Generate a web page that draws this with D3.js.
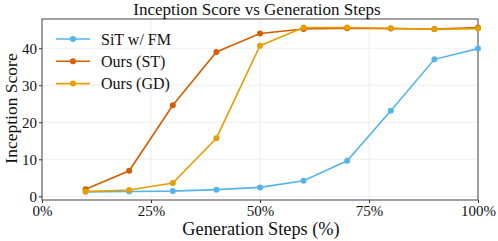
<!DOCTYPE html>
<meta charset="utf-8">
<html>
<head>
  <script src="https://d3js.org/d3.v7.min.js"></script>
</head>
<body style="margin:0; background:#fff">
  <svg id="chart"></svg>
  <script type="text/javascript">
    var width = 498
    var height = 241
    const margin = { top: 19, right: 20, bottom: 41, left: 42 }
    const FONT = 'Liberation Serif, Times New Roman, serif'

    // data
    var steps = [10, 20, 30, 40, 50, 60, 70, 80, 90, 100]
    var sitFM = [1.2, 1.3, 1.4, 1.8, 2.4, 4.2, 9.6, 23.1, 37.0, 39.9]
    var oursST = [1.9, 6.9, 24.6, 39.0, 44.0, 45.2, 45.4, 45.3, 45.2, 45.6]
    var oursGD = [1.3, 1.7, 3.6, 15.7, 40.7, 45.6, 45.6, 45.4, 45.1, 45.3]
    var seriesNames = ['SiT w/ FM', 'Ours (ST)', 'Ours (GD)']
    var seriesColors = ['#56B4E9', '#D55E00', '#E69F00']
    var xTicks = [0, 25, 50, 75, 100]
    var yTicks = [0, 10, 20, 30, 40]

    var series = [sitFM, oursST, oursGD].map(function (vals, i) {
      return { name: seriesNames[i], color: seriesColors[i],
        values: vals.map(function (v, j) { return { x: steps[j], y: v } }) }
    })

    const svg = d3.select('#chart')
      .attr('width', width).attr('height', height)
      .attr('font-family', FONT)

    var x = d3.scaleLinear().domain([0, 100]).range([margin.left, width - margin.right])
    var y = d3.scaleLinear().domain([-1, 47.9]).range([height - margin.bottom, margin.top])

    // grid
    svg.append('g').selectAll('line').data(xTicks).enter().append('line')
      .attr('x1', d => x(d)).attr('x2', d => x(d))
      .attr('y1', margin.top).attr('y2', height - margin.bottom)
      .attr('stroke', '#ebebeb').attr('stroke-width', 0.8)
    svg.append('g').selectAll('line').data(yTicks).enter().append('line')
      .attr('y1', d => y(d)).attr('y2', d => y(d))
      .attr('x1', margin.left).attr('x2', width - margin.right)
      .attr('stroke', '#ebebeb').attr('stroke-width', 0.8)

    // axes
    var xAxis = svg.append('g')
      .attr('transform', 'translate(0,' + (height - margin.bottom) + ')')
      .call(d3.axisBottom(x).tickValues(xTicks).tickFormat(d => d + '%').tickSize(3).tickPadding(2))
    var yAxis = svg.append('g')
      .attr('transform', 'translate(' + margin.left + ',0)')
      .call(d3.axisLeft(y).tickValues(yTicks).tickSize(3).tickPadding(2))
    ;[xAxis, yAxis].forEach(function (a) {
      a.attr('font-family', FONT).attr('font-size', 15)
      a.select('.domain').remove()
      a.selectAll('text').attr('fill', '#111')
      a.selectAll('.tick line').attr('stroke', '#333')
    })

    // frame
    svg.append('rect')
      .attr('x', margin.left).attr('y', margin.top)
      .attr('width', width - margin.left - margin.right)
      .attr('height', height - margin.top - margin.bottom)
      .attr('fill', 'none').attr('stroke', '#444').attr('stroke-width', 1)

    // lines
    var line = d3.line().x(d => x(d.x)).y(d => y(d.y))
    series.forEach(function (s) {
      svg.append('path').datum(s.values)
        .attr('d', line).attr('fill', 'none')
        .attr('stroke', s.color).attr('stroke-width', 1.6)
      svg.append('g').selectAll('circle').data(s.values).enter().append('circle')
        .attr('cx', d => x(d.x)).attr('cy', d => y(d.y)).attr('r', 3)
        .attr('fill', s.color)
    })

    // legend
    var legend = svg.append('g').attr('transform', 'translate(56,39)')
    series.forEach(function (s, i) {
      var g = legend.append('g').attr('transform', 'translate(0,' + (i * 22.3) + ')')
      g.append('line').attr('x1', 0).attr('x2', 34).attr('stroke', s.color).attr('stroke-width', 1.6)
      g.append('circle').attr('cx', 17).attr('r', 3).attr('fill', s.color)
      g.append('text').attr('x', 45).attr('y', 5.5)
        .attr('font-family', FONT).attr('font-size', 16).attr('fill', '#111').text(s.name)
    })

    // titles
    svg.append('text').attr('x', (margin.left + width - margin.right) / 2 - 3).attr('y', 15)
      .attr('text-anchor', 'middle').attr('font-family', FONT).attr('font-size', 17).attr('fill', '#111')
      .text('Inception Score vs Generation Steps')
    svg.append('text').attr('x', (margin.left + width - margin.right) / 2 + 1).attr('y', 235)
      .attr('text-anchor', 'middle').attr('font-family', FONT).attr('font-size', 18.3).attr('fill', '#111')
      .text('Generation Steps (%)')
    svg.append('text').attr('transform', 'translate(17,' + ((margin.top + height - margin.bottom) / 2 - 1) + ') rotate(-90)')
      .attr('text-anchor', 'middle').attr('font-family', FONT).attr('font-size', 17.5).attr('fill', '#111')
      .text('Inception Score')
  </script>
</body>
</html>
